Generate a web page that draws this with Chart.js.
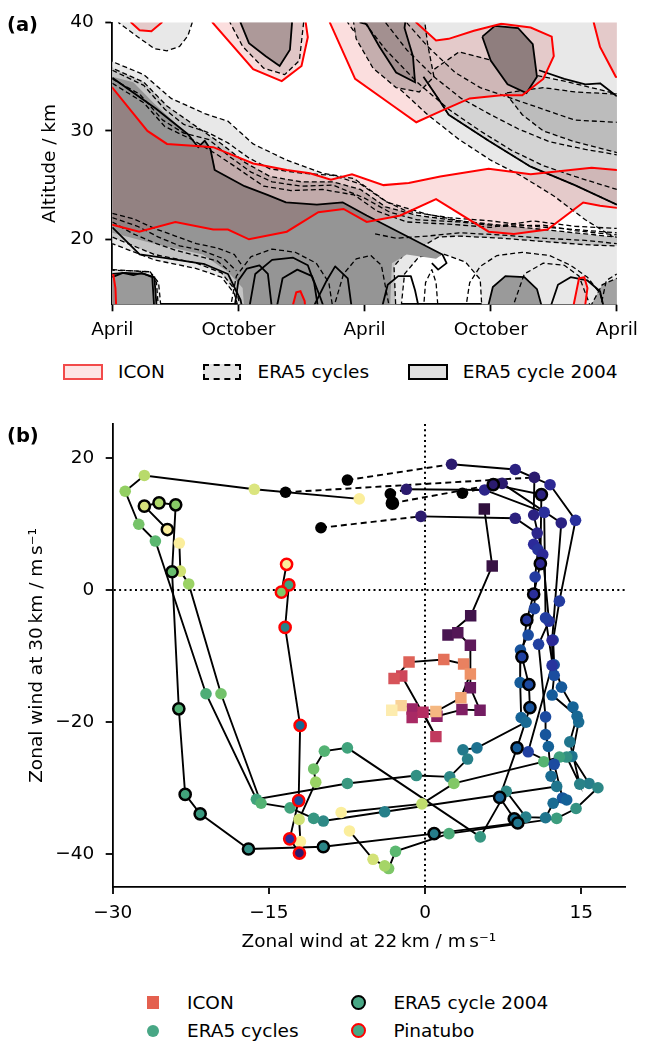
<!DOCTYPE html>
<html>
<head>
<meta charset="utf-8">
<script src="https://cdn.jsdelivr.net/npm/chart.js@4.4.1/dist/chart.umd.min.js"></script>
<style>
body { margin: 0; width: 646px; height: 1041px; background: #fff; position: relative; overflow: hidden; font-family: 'DejaVu Sans'; }
canvas { position: absolute; left: 0; }
#chart_a { top: 0; }
#chart_b { top: 400px; }
.txt { position: absolute; font-size: 18.5px; line-height: 22px; white-space: nowrap; color: #000; }
.panel { position: absolute; font-size: 19.5px; line-height: 24px; font-weight: bold; }
.box { position: absolute; box-sizing: border-box; width: 40px; height: 16px; top: 363.5px; }
.mk { position: absolute; box-sizing: border-box; }
</style>
</head>
<body>
<canvas id="chart_a" width="646" height="350"></canvas>
<canvas id="chart_b" width="646" height="560"></canvas>

<div class="panel" style="left:7px;top:13px">(a)</div>
<div class="panel" style="left:7px;top:424px">(b)</div>

<div class="box" style="left:62.6px;background:#fde4e4;border:2px solid #f24a4a"></div>
<div class="txt" style="left:118px;top:360.5px">ICON</div>
<div class="box" style="left:202.7px;width:38.5px;background:#e4e4e4;border:2px dashed #000"></div>
<div class="txt" style="left:257.5px;top:360.5px">ERA5 cycles</div>
<div class="box" style="left:408px;background:#e0e0e0;border:2px solid #000"></div>
<div class="txt" style="left:462.7px;top:360.5px">ERA5 cycle 2004</div>

<div class="mk" style="left:146.5px;top:996.4px;width:12.7px;height:12.7px;background:#e4604f"></div>
<div class="txt" style="left:187px;top:991.7px">ICON</div>
<div class="mk" style="left:146.8px;top:1024.7px;width:12px;height:12px;border-radius:50%;background:#48a785"></div>
<div class="txt" style="left:187px;top:1019.7px">ERA5 cycles</div>
<div class="mk" style="left:351px;top:995.2px;width:15px;height:15px;border-radius:50%;background:#48a785;border:2.5px solid #000"></div>
<div class="txt" style="left:393.4px;top:991.7px">ERA5 cycle 2004</div>
<div class="mk" style="left:351px;top:1023.2px;width:15px;height:15px;border-radius:50%;background:#48a785;border:2.5px solid #f00"></div>
<div class="txt" style="left:393.4px;top:1019.7px">Pinatubo</div>

<script>
// ---------- panel (a) : months since April vs altitude ----------
const monthTicks = [0, 6, 12, 18, 24];
const monthLabels = ['April', 'October', 'April', 'October', 'April'];
const altTicks = [20, 30, 40];

// ERA5 light envelopes [month, km]
const envTopLeft = [[0.3,41],[0.3,40],[1.2,38.7],[2.0,37.6],[2.6,37.4],[3.2,37.8],[3.6,38.8],[3.8,40],[3.8,41]];
const envTopRight = [[11.2,41],[11.2,40],[12.3,37],[13.6,34],[15,31.5],[16.5,29.2],[18,27.3],[19.5,25.8],[21,24],[22.5,21.8],[24,20],[25,20],[25,41]];
const envBand = [[-1,36.4],[0,36.4],[1.5,35.2],[2.8,33],[4.4,31.6],[5.5,30.9],[6.7,28.8],[8.3,27.3],[10,26.1],[11.5,25.6],[13.1,23.4],[15,22.3],[17.9,21.2],[20.9,20.6],[24,19.9],[25,19.9],[25,13],[17.6,13],[17.5,16.3],[16.8,17.9],[15.8,18.6],[14.6,18.4],[13.9,16.8],[13.7,13],[6.1,13],[5.8,15],[5.2,16.5],[4,17.3],[2,18.1],[0,19.6],[-1,19.6]];
const envBottomLeft = [[-1,13],[-1,17.2],[0.8,17.1],[1.8,17],[2.2,16],[2.3,14],[2.3,13]];
const envTopMid = [[5.6,41],[5.6,40],[6.2,37.8],[7.2,35.8],[8.2,35.2],[8.9,36.5],[9.1,40],[9.1,41]];
// ERA5 mid greys
const bandMid = [[-1,35.8],[0,35.8],[1.5,34.5],[2.6,32.3],[4,30.4],[5.2,28.8],[6.3,27.1],[7.5,25.8],[9,25.3],[10.5,25.3],[11.8,24.6],[13,23.0],[14.5,22.2],[16.5,21.7],[18.5,21.3],[20.5,20.9],[22.5,20.5],[24,20.2],[25,20.2],[25,19.3],[22.5,19.5],[20.5,19.8],[18.5,20.1],[16.5,20.3],[15.5,20.2],[14.8,19.4],[14,18.9],[13.4,17.5],[13.5,13],[6.2,13],[5.9,15.2],[5.2,16.9],[4,17.8],[2,18.6],[0,20.2],[-1,20.2]];
const rightMid = [[14.8,35],[15.5,33],[16,31.5],[17.9,29.1],[19.9,26.7],[22,25],[24,23.2],[25,23.2],[25,33.2],[24,33.4],[23,33.9],[21.5,34.6],[20,35.2],[18.3,36.4],[16.5,37.3]];
const rightMidInner = [[18.7,33.5],[19.5,31.5],[20.5,30],[22,29],[24,28],[25,28],[25,33.3],[22,33.6],[20.5,34]];
const topRightHalo = [[11.4,41],[11.6,38.5],[12.4,35.8],[13.5,34],[14.6,33.6],[15.3,35],[15,38],[14.8,41]];
// ERA5 dark cores
const bandCore = [[-1,35],[0,35],[1,34.5],[2,32.5],[3.3,30.2],[4.1,28.6],[4.4,29.1],[4.7,28.3],[4.9,26.4],[6.3,24.9],[7.4,24.1],[8.3,23.4],[9.7,23.2],[11,23.4],[12.1,22.2],[13.3,21],[14.8,19.5],[15.7,18.6],[15.4,18.2],[14,18.6],[13.3,17.8],[13.2,13],[6.3,13],[6.2,15.5],[5.5,17],[4.3,18.6],[2,19.6],[0,20.6],[-1,20.6]];
const blobBottomLeft = [[-1,13],[-1,16.8],[0,16.8],[0.6,16.9],[1.5,16.8],[2.0,16.5],[2.1,14],[2.1,13]];
const blobBottomRight1 = [[17.9,13],[17.9,14],[18.1,15.6],[18.7,16.6],[19.6,16.5],[20.2,15.4],[20.4,14],[20.4,13]];
const blobBottomRight2 = [[22.8,13],[22.8,14],[23.3,15.8],[24,16.4],[25,16.4],[25,13]];
const blobTopMid = [[6.1,41],[6.1,40],[6.5,38.1],[7.3,36.9],[7.96,36],[8.45,37.5],[8.55,40],[8.55,41]];
const blobTopRight1 = [[11.8,41],[11.8,40],[12.1,39.85],[12.7,37.8],[13.5,35.4],[14.4,34.5],[14.3,36.9],[13.9,39.5],[14,41]];
const blobTopRight2 = [[17.6,38.7],[18,36.5],[18.8,34.3],[19.7,33.5],[20.2,35],[20.0,38],[19.3,39.5],[18.2,39.7]];
// ICON regions
const iconBand = [[-1,34.5],[0,34],[1.67,30],[2.6,28.8],[4,28.6],[4.8,28.5],[6.7,27],[8.3,26.4],[9.4,26.1],[10.4,25.5],[11.4,26],[12.9,25],[14.1,25.2],[15.6,25.8],[17.9,26.5],[19.9,26],[22.8,26.6],[24,26.4],[25,26.4],[25,22.9],[24,22.9],[23.2,23.1],[22.4,23.4],[20.7,20.9],[19.1,20.5],[17.9,20.7],[16.4,22.5],[15.4,23.7],[13.7,22.2],[12.1,21.6],[11,22.8],[9.8,22.5],[8.3,20.7],[6.5,20.0],[5.5,20.9],[4.8,20.9],[3,21.6],[1.28,20.7],[0,21.35],[-1,21.5]];
const iconTopRight = [[10.35,41],[10.35,40],[11.55,34.8],[13.3,32.4],[14.46,30.8],[15.6,31.8],[17.0,33.0],[18.5,33.3],[19.5,33.3],[20.5,34.8],[21.0,36.9],[20.9,38.7],[19.9,39.55],[18.5,39.9],[17.2,39.25],[16.0,38.5],[15.4,38.35],[14.46,40],[14.46,41]];
const iconTopMid = [[4.77,41],[4.77,40],[6.7,35.7],[8.06,34.6],[9.0,36],[9.3,38.65],[9.2,40],[9.2,41]];
const iconTopLeft = [[0.9,41],[0.9,40],[1.3,39.3],[1.86,39.2],[2.35,40],[2.35,41]];
const iconTopCorner = [[22.9,41],[22.9,40],[23.2,37.75],[23.95,35],[25,34.5],[25,41]];
const iconLow1 = [[8.6,13],[8.6,14],[8.75,15.1],[8.95,15.2],[9.15,14.3],[9.2,13]];
const iconLow2 = [[21.9,13],[21.95,14],[22.2,16.4],[22.45,16.5],[22.6,15.5],[22.5,14],[22.5,13]];
const iconLow3 = [[-1,13],[-1,16.8],[0.05,16.7],[0.15,15.5],[0.2,13]];
// ERA5 cycle contour lines (dashed)
const dashBand1 = [[0,35.6],[1.5,34.2],[2.5,32],[3.4,30.6],[4.5,29.9],[5.5,28.9],[6.5,27.5],[7.5,26.5],[9,26.1],[10.5,25.9],[11.8,25.1],[13,23.5],[14,22.6],[16,22],[18,21.7],[20,21.2],[22,20.9],[24,20.6]];
const dashBand2 = [[0,34.8],[1.3,33.4],[2.4,31],[3.4,29.8],[4.6,29.2],[5.6,27.6],[6.6,26.2],[7.6,25.3],[9,24.9],[10.5,25],[12,23.8],[13.2,22.5],[14.5,21.8],[16.5,21.6],[18.5,21.2],[20.5,21.3],[22,20.8],[24,20.4]];
const dashBand3 = [[0,34.4],[1.5,32.6],[2.5,30.4],[3.8,29.2],[5,27.8],[6,26.5],[7.2,24.9],[8.5,24.5],[10,24.6],[11.5,24.1],[12.6,22.6],[14,21.6],[16,21.4],[18,21.1],[20,21.7],[22,21.2],[24,21.0]];
const dashLow1 = [[0,22.4],[1,21.9],[2,21],[3,20.3],[4,19.6],[5,19.2],[5.8,18.6],[6.2,17.5]];
const dashLow2 = [[0,22.0],[1.2,21.2],[2.2,20.2],[3.2,19.4],[4.2,19.0],[5.3,18.2],[5.9,17.1]];
const dashLow3 = [[0,21.6],[1,20.5],[2.1,19.6],[3,19],[4,18.5],[5,18.0],[5.6,17.0]];
const dashLow4 = [[12.5,20.5],[13.5,20.1],[15,20.3],[16.5,20.6],[18.5,20.4],[20.5,20.1],[22.5,19.9],[24,19.6]];
const dashRight1 = [[12,40],[13,37.5],[14.5,34.5],[16,32],[17.5,30],[19,28.2],[20.5,26.8],[22,25.8],[24,24.6]];
const dashRight2 = [[13,40],[14,37.5],[15.3,35],[16.6,33],[18,31.5],[19.3,30.2],[20.8,29],[22.5,28.3],[24,27.8]];
const dashRight3 = [[14,40],[15,37.8],[16.3,35.4],[17.5,34],[19,33],[20.5,32],[22,31],[24,30.8]];
const dashArch1 = [[5.6,13.5],[5.9,16.6],[6.6,18.4],[7.6,19.1],[8.7,18.8],[9.7,17.8],[10.3,16],[10.5,13.5]];
const dashArch2 = [[10.5,13.5],[11,16.8],[11.6,18.2],[12.3,18.5],[12.8,17.6],[13.2,13.5]];
const dashArch3 = [[14.8,13.5],[14.9,16],[15.2,17.2],[15.4,16],[15.5,13.5]];
const dashArch4 = [[16.8,13.5],[17,16],[17.5,17.5],[18.3,18.5],[19.5,18.8],[20.8,18.5],[21.8,17.6],[22.6,16.5],[23.2,15],[23.4,13.5]];
const dashArch5 = [[19,13.5],[19.6,16.8],[20.5,17.8],[21.5,17.6],[22.2,16.6],[22.8,13.5]];
const dashArch6 = [[23.2,13.5],[23.5,16.2],[24,16.8]];
const dashArch7 = [[0,17.2],[0.8,17.1],[1.8,17],[2.1,16],[2.2,13.5]];
// ERA5 cycle 2004 contour lines (solid)
const line2004Upper = [[0,34.9],[2.05,32.1],[3.6,29.7],[4.09,28.5],[4.4,29.1],[4.67,28.3],[4.87,26.4],[6.29,24.9],[7.38,24.1],[8.26,23.4],[9.73,23.2],[10.97,23.4],[12.1,22.2],[13.3,21],[14.8,19.5],[15.7,18.6],[15.9,17.8],[15.5,17.2],[15.2,17.8]];
const line2004Lower = [[0,21.1],[1.3,18.6],[2.4,18.3],[4.4,17.7],[5.5,16.8],[6.1,14.4],[6.2,13.5]];
const line2004Right = [[14.8,35],[15.5,33],[16,31.5],[17.9,29.1],[19.9,26.7],[22,25],[24,23.2]];
const line2004TopRight = [[20.3,35.6],[21.5,34.8],[22.5,34.3],[23.2,34.4],[24,33.2]];
const arch1 = [[5.8,13.5],[6.0,16.2],[6.4,17.3],[7,17.6],[7.4,16.8],[7.6,13.5]];
const arch2 = [[6.5,13.5],[6.8,16.8],[7.6,18.1],[8.6,18.3],[9.3,17.6],[9.6,16],[9.8,13.5]];
const arch3 = [[7.8,13.5],[8.1,16.4],[8.8,17.2],[9.5,16.6],[9.9,14.6],[10.1,13.5]];
const arch4 = [[9.5,13.5],[10.2,16.2],[10.6,17.5],[11.2,16.4],[11.4,13.5]];
const arch5 = [[12.8,13.5],[13.1,15.8],[13.6,16.6],[14.2,16.6],[14.4,15.3],[14.6,13.5]];
const arch6 = [[20.8,13.5],[21.2,15.8],[21.8,16.5],[22.6,16.2],[23.2,15.2],[23.4,13.5]];
const arch7 = [[0,16.5],[0.5,16.9],[1,16.7],[1.4,16.9],[1.9,16.5],[2.0,13.5]];

// ---------- panel (b) : hodograph, u at 22 km vs u at 30 km ----------
const windTicksX = [-30, -15, 0, 15];
const windTicksY = [-40, -20, 0, 20];
const cycleA = [[-7.46,16.7],[2.54,19.1],[8.66,18.3],[12.0,16.0],[14.45,10.6],[12.9,-1.66],[12.3,-7.55],[12.4,-11.3],[13.1,-14.7],[14.2,-17.7],[14.75,-20.0],[14.1,-25.2],[15.75,-29.3],[16.6,-29.95],[14.5,-33.1],[12.64,-34.6],[2.3,-36.9],[-2.84,-39.6],[-3.5,-42.2],[-3.88,-41.8],[-5.0,-40.8],[-7.26,-36.5]];
const cycleB = [[-10.0,9.47],[-0.4,11.2],[8.66,10.9],[10.77,8.66],[10.43,6.95],[10.84,6.15],[10.57,2.0],[10.5,-2.8],[9.9,-6.8],[9.16,-9.07],[9.13,-14.0],[9.23,-19.3],[9.7,-20.0],[4.98,-23.9],[3.64,-24.2],[4.08,-25.6],[2.37,-28.3],[-0.84,-28.1],[-7.46,-29.3],[-16.2,-31.7],[-21.04,-15.7],[-25.9,7.45],[-27.5,10.0],[-28.8,15.0],[-26.96,17.4],[-16.4,15.3],[-6.32,13.85]];
const cycleC = [[-13.4,14.85],[10.5,17.1],[10.43,11.4],[11.3,5.4],[11.9,-4.7],[10.9,-8.2],[11.57,-19.2],[11.57,-21.9],[11.84,-23.7],[12.1,-28.2],[12.64,-29.75],[-3.88,-33.6],[-9.77,-35.0],[-10.7,-34.6],[-12.97,-33.0],[-15.75,-32.3],[-19.6,-15.7],[-22.7,0.95],[-23.5,2.9],[-23.6,7.15]];
const cycleD = [[-3.34,14.6],[-1.8,15.3],[5.72,15.2],[11.44,11.8],[11.57,-4.2],[12.4,-12.9],[12.2,-15.9],[14.6,-19.1],[13.9,-23.0],[14.85,-29.4],[13.6,-25.3],[12.9,-25.3],[11.4,-26.0],[2.77,-29.3],[-0.3,-32.4],[-8.06,-33.7]];
const cycleE = [[3.58,14.7],[7.4,16.2],[13.08,10.2],[12.2,-7.6],[12.2,-11.4],[9.9,-24.5],[12.4,-26.4],[13.2,-31.5],[13.6,-31.8],[12.3,-32.3],[11.57,-34.5],[9.67,-34.4],[7.8,-30.5],[5.3,-37.4],[-7.46,-23.9],[-9.67,-24.4],[-10.7,-27.1],[-10.5,-29.1],[-12.1,-34.75],[-11.97,-38.1]];
const cycle2004 = [[-3.14,13.2],[6.55,16.0],[11.17,14.5],[11.07,4.03],[10.43,-0.6],[9.77,-4.5],[9.3,-10.1],[9.97,-14.3],[10.07,-17.8],[8.83,-23.9],[7.16,-31.4],[8.56,-34.65],[8.9,-35.3],[0.87,-36.9],[-9.77,-38.9],[-16.96,-39.24],[-21.6,-33.9],[-23.04,-30.96],[-23.65,-17.98],[-24.3,2.8],[-23.95,12.95],[-25.55,13.25],[-26.96,12.75],[-24.75,9.2]];
const pinatubo = [[-12.07,-39.85],[-13.0,-37.7],[-12.14,-31.9],[-12.0,-20.5],[-13.44,-5.64],[-13.08,0.8],[-13.8,-0.3],[-13.3,3.93]];
const iconWind = [[5.69,12.3],[6.45,3.68],[4.38,-3.88],[2.2,-6.8],[3.14,-6.45],[4.35,-8.36],[4.35,-14.8],[5.28,-18.2],[3.54,-18.1],[1.14,-19.1],[-1.24,-18.0],[-1.24,-19.3],[-0.2,-18.5],[1.04,-22.2],[-2.24,-13.0],[-2.98,-13.4],[-1.54,-10.9],[1.8,-10.5],[3.7,-11.2],[4.35,-12.7],[3.44,-16.3],[1.04,-18.4],[-2.3,-17.5],[-3.2,-18.2]];

// colour ramps
const halineStops = [[0,'#2b1b6e'],[0.12,'#2c2a9a'],[0.25,'#1e46a2'],[0.38,'#135f98'],[0.5,'#1f758d'],[0.62,'#2f8b85'],[0.72,'#3fa27c'],[0.8,'#5bb870'],[0.88,'#92cf62'],[0.94,'#cbe070'],[1,'#fbee9c']];
const matterStops = [[0,'#30103e'],[0.15,'#4d1654'],[0.3,'#721c62'],[0.42,'#962367'],[0.52,'#b52e62'],[0.62,'#d04859'],[0.72,'#e26a58'],[0.82,'#ed8e64'],[0.9,'#f4b07a'],[1,'#fdecaf']];

function hex(h) { return [1, 3, 5].map(i => parseInt(h.substr(i, 2), 16)); }
function ramp(stops, t) {
    t = Math.max(0, Math.min(1, t));
    for (let k = 1; k < stops.length; k++) {
        if (t <= stops[k][0]) {
            const a = stops[k - 1], b = stops[k];
            const f = (t - a[0]) / (b[0] - a[0]);
            const ca = hex(a[1]), cb = hex(b[1]);
            return 'rgb(' + ca.map((v, j) => Math.round(v + (cb[j] - v) * f)).join(',') + ')';
        }
    }
    return stops[stops.length - 1][1];
}
function cycleColors(n, blackStart) {
    let out = [];
    for (let i = 0; i < n; i++) {
        if (blackStart) out.push(i === 0 ? '#000' : ramp(halineStops, (i - 1) / (n - 2)));
        else out.push(ramp(halineStops, i / (n - 1)));
    }
    return out;
}

Chart.defaults.font.family = "'DejaVu Sans'";
Chart.defaults.font.size = 18.5;
Chart.defaults.color = '#000';

const xy = pts => pts.map(p => ({x: p[0], y: p[1]}));

function area(pts, color, extra) {
    return Object.assign({
        data: xy(pts.concat([pts[0]])),
        fill: 'shape',
        backgroundColor: color,
        borderColor: 'rgba(0,0,0,0)',
        borderWidth: 0,
        pointRadius: 0,
        tension: 0
    }, extra || {});
}
function curve(pts, color, width, dash) {
    return {
        data: xy(pts),
        fill: false,
        borderColor: color,
        borderWidth: width,
        borderDash: dash || [],
        borderJoinStyle: 'round',
        pointRadius: 0,
        tension: 0
    };
}
const dashed = {borderColor: '#000', borderWidth: 1.3, borderDash: [5, 3]};
const solid = {borderColor: '#000', borderWidth: 1.8};
const redEdge = {borderColor: '#ff0000', borderWidth: 2, fill: false, backgroundColor: 'rgba(0,0,0,0)'};
const iconFill = '#fbdede';

let layers_a = [
    area(envTopLeft, '#e8e8e8', dashed),
    area(envTopRight, '#e8e8e8', dashed),
    area(envBand, '#e8e8e8', dashed),
    area(envBottomLeft, '#e8e8e8', dashed),
    area(envTopMid, '#e4e4e4', dashed),
    area(bandMid, '#c4c4c4', dashed),
    area(rightMid, '#d3d3d3', dashed),
    area(rightMidInner, '#bcbcbc', dashed),
    area(topRightHalo, '#c8c8c8', dashed),
    area(bandCore, '#959595'),
    area(blobBottomLeft, '#9a9a9a', solid),
    area(blobBottomRight1, '#9a9a9a', solid),
    area(blobBottomRight2, '#a2a2a2', dashed),
    area(blobTopMid, '#b0b0b0', solid),
    area(blobTopRight1, '#a6a6a6', solid),
    area(blobTopRight2, '#919191', solid)
];
const iconShapes = [iconBand, iconTopRight, iconTopMid, iconTopLeft, iconTopCorner, iconLow1, iconLow2, iconLow3];
iconShapes.forEach(s => layers_a.push(area(s, iconFill, {blend: true})));
[dashBand1, dashBand2, dashBand3, dashLow1, dashLow2, dashLow3, dashLow4, dashRight1, dashRight2, dashRight3,
 dashArch1, dashArch2, dashArch3, dashArch4, dashArch5, dashArch6, dashArch7].forEach(c => layers_a.push(curve(c, '#000', 1.3, [5, 3])));
[line2004Upper, line2004Lower, line2004Right, line2004TopRight, arch1, arch2, arch3, arch4, arch5, arch6, arch7].forEach(c => layers_a.push(curve(c, '#000', 1.8)));
iconShapes.forEach(s => layers_a.push(area(s, 'rgba(0,0,0,0)', redEdge)));
// first in list is drawn first
layers_a.forEach((d, i) => { d.order = layers_a.length - i; });

// ICON fills are multiplied onto the grey ERA5 fields
const multiplyBlend = {
    id: 'multiplyBlend',
    beforeDatasetsDraw(chart) {
        const metas = chart.getSortedVisibleDatasetMetas();
        const first = metas[metas.length - 1];
        chart.ctx.globalCompositeOperation = first && chart.data.datasets[first.index].blend ? 'multiply' : 'source-over';
    },
    afterDatasetDraw(chart, args) {
        const metas = chart.getSortedVisibleDatasetMetas();
        const next = metas[metas.indexOf(args.meta) - 1];
        chart.ctx.globalCompositeOperation = next && chart.data.datasets[next.index].blend ? 'multiply' : 'source-over';
    },
    afterDatasetsDraw(chart) {
        chart.ctx.globalCompositeOperation = 'source-over';
    }
};

const chart_a = new Chart(document.getElementById('chart_a'), {
    type: 'line',
    data: {datasets: layers_a},
    plugins: [multiplyBlend],
    options: {
        responsive: false,
        animation: false,
        devicePixelRatio: 1,
        layout: {padding: {left: 39.4, right: 22, top: 15, bottom: 5.7}},
        plugins: {legend: {display: false}, tooltip: {enabled: false}},
        scales: {
            x: {
                type: 'linear', min: 0, max: 24,
                afterBuildTicks: s => { s.ticks = monthTicks.map(v => ({value: v})); },
                afterFit: s => { s.height = 40; },
                ticks: {padding: 8, callback: v => monthLabels[monthTicks.indexOf(v)], maxRotation: 0, autoSkip: false},
                grid: {drawOnChartArea: false, tickColor: '#000', tickLength: 7, tickWidth: 1.8},
                border: {color: '#000', width: 1.8}
            },
            y: {
                type: 'linear', min: 14, max: 40,
                afterBuildTicks: s => { s.ticks = altTicks.map(v => ({value: v})); },
                afterFit: s => { s.width = 72.9; },
                ticks: {padding: 11.5},
                grid: {drawOnChartArea: false, tickColor: '#000', tickLength: 7, tickWidth: 1.8},
                border: {color: '#000', width: 1.8},
                title: {display: true, text: 'Altitude / km', padding: 0}
            }
        }
    }
});

// ---------- panel (b) datasets ----------
function track(pts, dashedStart) {
    return {
        data: xy(pts), showLine: true, borderColor: '#000', borderWidth: 1.9, pointRadius: 0,
        segment: {borderDash: c => (dashedStart && c.p0DataIndex === 0) ? [6, 4] : undefined}
    };
}
function markers(pts, colors, extra) {
    return Object.assign({
        data: xy(pts), showLine: false, pointRadius: 5.8, pointHoverRadius: 5.8,
        pointBackgroundColor: colors, pointBorderWidth: 0, pointBorderColor: '#000'
    }, extra || {});
}
const eraCycles = [cycleA, cycleB, cycleC, cycleD, cycleE];
let layers_b = [];
eraCycles.forEach(c => layers_b.push(track(c, true)));
layers_b.push(track(cycle2004, true));
layers_b.push(track(pinatubo, false));
layers_b.push(track(iconWind, false));
eraCycles.forEach(c => layers_b.push(markers(c, cycleColors(c.length, true))));
layers_b.push(markers(cycle2004, cycleColors(cycle2004.length, true), {pointRadius: 5.6, pointBorderWidth: 2.5, pointBorderColor: '#000'}));
layers_b.push(markers(pinatubo, cycleColors(pinatubo.length, false), {pointRadius: 5.6, pointBorderWidth: 2.5, pointBorderColor: '#ff0000'}));
layers_b.push(markers(iconWind, iconWind.map((p, i) => ramp(matterStops, i / (iconWind.length - 1))), {pointStyle: 'rect', pointRadius: 8.1, pointHoverRadius: 8.1}));
layers_b.forEach((d, i) => { d.order = layers_b.length - i; });

const fmtWind = v => v < 0 ? '\u2212' + (-v) : String(v);
const zeroLine = c => (c.tick && c.tick.value === 0) ? '#000' : 'rgba(0,0,0,0)';

const chart_b = new Chart(document.getElementById('chart_b'), {
    type: 'scatter',
    data: {datasets: layers_b},
    options: {
        responsive: false,
        animation: false,
        devicePixelRatio: 1,
        layout: {padding: {left: 26, right: 21, top: 24, bottom: 7}},
        plugins: {legend: {display: false}, tooltip: {enabled: false}},
        scales: {
            x: {
                type: 'linear', min: -30, max: 19.2,
                afterBuildTicks: s => { s.ticks = windTicksX.map(v => ({value: v})); },
                afterFit: s => { s.height = 66; },
                ticks: {padding: 8, callback: fmtWind, maxRotation: 0, autoSkip: false},
                grid: {color: zeroLine, lineWidth: 2, tickColor: '#000', tickLength: 7, tickWidth: 1.8},
                border: {color: '#000', width: 1.8, dash: [2, 3.3]},
                title: {display: true, text: 'Zonal wind at 22\u2009km / m\u2009s\u207B\u00B9', padding: 0}
            },
            y: {
                type: 'linear', min: -45, max: 25.2,
                afterBuildTicks: s => { s.ticks = windTicksY.map(v => ({value: v})); },
                afterFit: s => { s.width = 86.7; },
                ticks: {padding: 11.5, callback: fmtWind},
                grid: {color: zeroLine, lineWidth: 2, tickColor: '#000', tickLength: 7, tickWidth: 1.8},
                border: {color: '#000', width: 1.8, dash: [2, 3.3]},
                title: {display: true, text: 'Zonal wind at 30\u2009km / m\u2009s\u207B\u00B9', padding: 0}
            }
        }
    }
});
</script>
</body>
</html>
